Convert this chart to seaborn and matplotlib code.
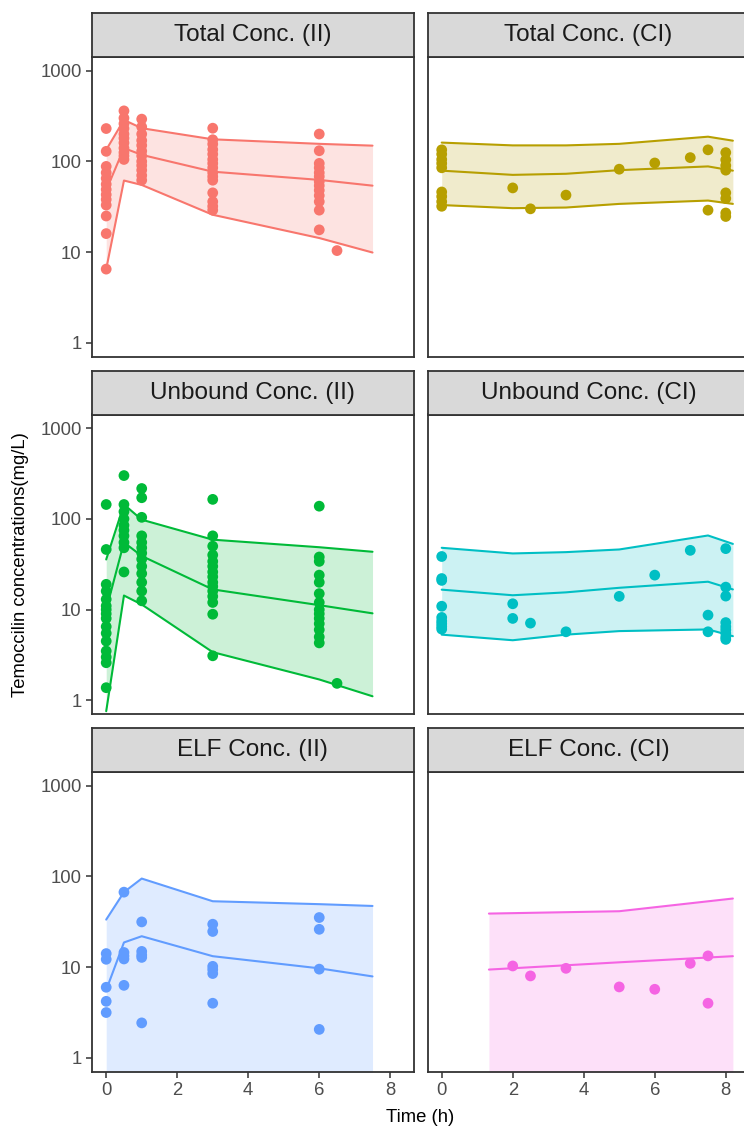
import matplotlib.pyplot as plt
from matplotlib.ticker import NullLocator
import numpy as np
import pandas as pd
import seaborn as sns

sns.set_theme(style="white")
plt.rcParams["font.family"] = ["Liberation Sans", "DejaVu Sans"]

# * Facet order (row by row) and ggplot hue colours
panels = ["Total Conc. (II)", "Total Conc. (CI)",
          "Unbound Conc. (II)", "Unbound Conc. (CI)",
          "ELF Conc. (II)", "ELF Conc. (CI)"]
colors = ["#F8766D", "#B79F00", "#00BA38", "#00BFC4", "#619CFF", "#F564E3"]

# * Observed concentrations (mg/L), time (h) -> values
total_ii_obs = {
    0: [230, 129, 88, 75, 65, 56, 49, 43, 38, 33, 25, 16, 6.5],
    0.5: [360, 300, 260, 230, 200, 180, 160, 140, 125, 115, 105],
    1: [292, 240, 200, 170, 150, 130, 115, 100, 90, 80, 70, 62],
    3: [232, 173, 155, 135, 120, 105, 95, 85, 75, 68, 62, 45, 36, 32, 29],
    6: [200, 131, 95, 85, 75, 68, 60, 54, 48, 42, 36, 29, 17.6],
    6.5: [10.4],
}
total_ci_obs = {
    0: [134, 120, 105, 95, 85, 46, 41, 36, 32],
    2: [51], 2.5: [30], 3.5: [42.5], 5: [82], 6: [96], 7: [110],
    7.5: [134, 29],
    8: [125, 104, 90, 80, 45, 39, 27, 24.7],
}
unbound_ii_obs = {
    0: [144, 46, 19, 16, 13, 11, 10, 9, 8, 6.5, 5.5, 4.5, 3.5, 3, 2.6, 1.38],
    0.5: [300, 144, 120, 100, 85, 75, 65, 55, 48, 26],
    1: [216, 171, 104, 65, 55, 48, 42, 36, 30, 25, 20, 16, 12.5],
    3: [164, 65, 50, 40, 34, 30, 26, 23, 20, 18, 16, 14, 12, 8.9, 3.1],
    6: [138, 38, 34, 24, 20, 15, 12, 10, 9, 8, 7, 6, 5, 4.3],
    6.5: [1.54],
}
unbound_ci_obs = {
    0: [38.5, 22, 21, 10.9, 8.2, 7.5, 7, 6.5, 6.1],
    2: [11.6, 8.0], 2.5: [7.1], 3.5: [5.7], 5: [14], 6: [24], 7: [45],
    7.5: [8.7, 5.7],
    8: [47, 17.7, 14.1, 7.2, 6.5, 6, 5.5, 5, 4.7],
}
elf_ii_obs = {
    0: [14.1, 12.2, 6.0, 4.2, 3.16],
    0.5: [67, 14.5, 13.3, 12.3, 6.3],
    1: [31.5, 14.9, 13.6, 12.8, 2.43],
    3: [29.7, 24.7, 10.2, 9.4, 8.5, 4.0],
    6: [35.2, 26.1, 9.5, 2.06],
}
elf_ci_obs = {
    2: [10.3], 2.5: [8.0], 3.5: [9.7], 5: [6.05], 6: [5.7], 7: [11.0],
    7.5: [13.3, 4.0],
}

# * Prediction intervals (lower, median, upper)
ii_time = [0, 0.5, 1, 3, 6, 7.5]
ci_time = [0, 2, 3.5, 5, 7.5, 8.2]
elf_ci_time = [1.33, 5, 8.2]

total_ii_lo = [6.5, 61.5, 55, 25.8, 14.3, 9.9]
total_ii_med = [48, 140, 118, 77, 62.5, 54]
total_ii_hi = [134, 286, 232, 175, 156, 149]

total_ci_lo = [33, 30.5, 31, 34, 37, 34]
total_ci_med = [79, 71, 73, 80, 88, 79]
total_ci_hi = [161, 150, 150, 156, 187, 169]

unbound_ii_lo = [0.76, 14.3, 11.4, 3.4, 1.7, 1.11]
unbound_ii_med = [10, 55, 39, 16.7, 11.2, 9.1]
unbound_ii_hi = [35.7, 144, 98, 59, 48.7, 43.4]

unbound_ci_lo = [5.3, 4.6, 5.3, 5.8, 6.05, 5.1]
unbound_ci_med = [16.6, 14.4, 15.5, 17.4, 20.3, 16.7]
unbound_ci_hi = [48, 41.6, 43, 46, 65.6, 53]

elf_ii_lo = [0.01, 0.01, 0.01, 0.01, 0.01, 0.01]  # below the axis
elf_ii_med = [5.6, 18.7, 21.9, 13.2, 9.7, 7.9]
elf_ii_hi = [33.4, 67, 94.6, 53.2, 49.4, 47.2]

elf_ci_lo = [0.01, 0.01, 0.01]  # below the axis
elf_ci_med = [9.4, 11.3, 13.2]
elf_ci_hi = [38.9, 41.3, 57]

# * Long tables for seaborn
obs_sets = [total_ii_obs, total_ci_obs, unbound_ii_obs, unbound_ci_obs, elf_ii_obs, elf_ci_obs]
rows = []
for name, obs in zip(panels, obs_sets):
    for t, vals in obs.items():
        for v in vals:
            rows.append((name, t, v))
obs_df = pd.DataFrame(rows, columns=["panel", "time", "conc"])

pred_sets = [
    (ii_time, total_ii_lo, total_ii_med, total_ii_hi),
    (ci_time, total_ci_lo, total_ci_med, total_ci_hi),
    (ii_time, unbound_ii_lo, unbound_ii_med, unbound_ii_hi),
    (ci_time, unbound_ci_lo, unbound_ci_med, unbound_ci_hi),
    (ii_time, elf_ii_lo, elf_ii_med, elf_ii_hi),
    (elf_ci_time, elf_ci_lo, elf_ci_med, elf_ci_hi),
]
pred_df = pd.concat(
    [pd.DataFrame({"panel": name, "time": t, "lo": lo, "med": med, "hi": hi})
     for name, (t, lo, med, hi) in zip(panels, pred_sets)],
    ignore_index=True)

# * Layout in pixels (744 x 1127)
W, H = 744, 1127
fig = plt.figure(figsize=(W / 100, H / 100), dpi=100)
col_left = [92, 427.5]
pan_w = 321.7
pan_top = [57, 414.5, 772]
pan_h = 299.5
strip_h = 43.7
dark = "#333333"

for i, name in enumerate(panels):
    r, c = divmod(i, 2)
    col = colors[i]
    ax = fig.add_axes([col_left[c] / W, 1 - (pan_top[r] + pan_h) / H, pan_w / W, pan_h / H])
    ax.set_yscale("log")
    sub = pred_df[pred_df.panel == name]
    ax.fill_between(sub.time, sub.lo, sub.hi, color=col, alpha=0.2, lw=0)
    for q in ["lo", "med", "hi"]:
        sns.lineplot(data=sub, x="time", y=q, ax=ax, color=col, lw=1.5,
                     estimator=None, sort=False)
    sns.scatterplot(data=obs_df[obs_df.panel == name], x="time", y="conc", ax=ax,
                    color=col, s=60, edgecolor="none", linewidth=0, zorder=3)
    ax.set_xlim(-0.4, 8.66)
    ax.set_ylim(10 ** -0.15, 10 ** 3.15)
    ax.set_xticks([0, 2, 4, 6, 8])
    ax.set_yticks([1, 10, 100, 1000])
    ax.set_yticklabels(["1", "10", "100", "1000"])
    ax.yaxis.set_minor_locator(NullLocator())
    ax.set_xlabel("")
    ax.set_ylabel("")
    ax.grid(False)
    for sp in ax.spines.values():
        sp.set_color(dark)
        sp.set_linewidth(1.3)
    ax.tick_params(axis="both", length=4.5, width=1.1, color=dark, labelcolor="#4D4D4D",
                   labelsize=13.3, pad=3)
    ax.tick_params(left=(c == 0), labelleft=(c == 0), bottom=(r == 2), labelbottom=(r == 2))

    # * Facet strip
    sax = fig.add_axes([col_left[c] / W, 1 - pan_top[r] / H, pan_w / W, strip_h / H])
    sax.set_facecolor("#D9D9D9")
    sax.set_xticks([])
    sax.set_yticks([])
    for sp in sax.spines.values():
        sp.set_color(dark)
        sp.set_linewidth(1.3)
    sax.text(0.5, 0.5, name, ha="center", va="center", fontsize=17.5, color="#1A1A1A",
             transform=sax.transAxes)

fig.text(21 / W, 1 - 564.5 / H, "Temoccilin concentrations(mg/L)", rotation=90,
         ha="center", va="center", fontsize=13.3, color="black")
fig.text(420.5 / W, 1 - 1117 / H, "Time (h)", ha="center", va="center",
         fontsize=13.3, color="black")

fig.savefig("out.png", dpi=100)
